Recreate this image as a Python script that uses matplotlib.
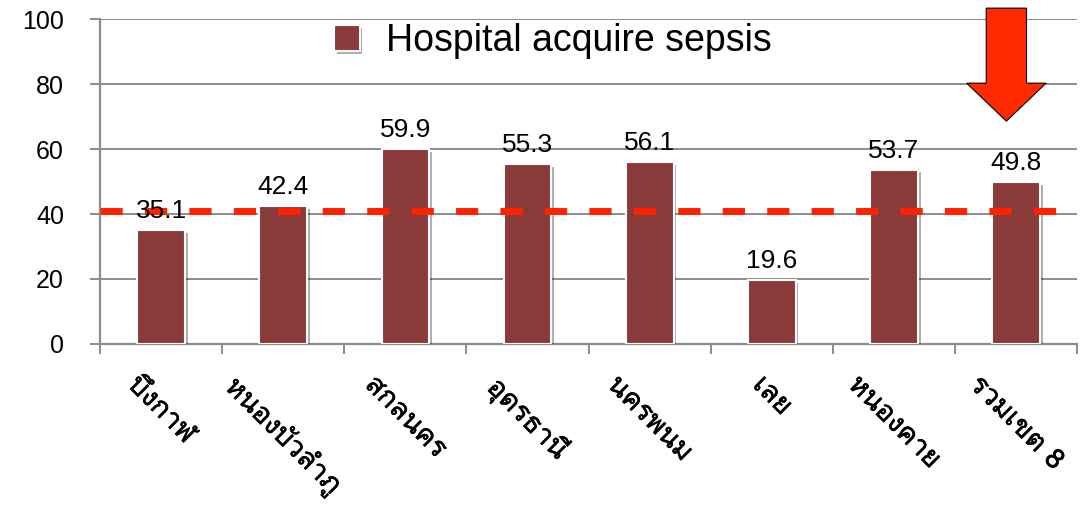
import matplotlib
matplotlib.use("Agg")
import matplotlib.pyplot as plt
from matplotlib import font_manager, patheffects
from matplotlib.ft2font import FT2Font
from matplotlib.patches import FancyArrow

categories = ["บึงกาฬ", "หนองบัวลำภู", "สกลนคร", "อุดรธานี", "นครพนม", "เลย", "หนองคาย", "รวมเขต 8"]
values = [35.1, 42.4, 59.9, 55.3, 56.1, 19.6, 53.7, 49.8]
target = 41
yticks = [0, 20, 40, 60, 80, 100]
legend_label = "Hospital acquire sepsis"

# find a font that can draw Thai
thai_font = None
for f in font_manager.fontManager.ttflist:
    try:
        if 0x0E01 in FT2Font(f.fname).get_charmap():
            thai_font = f.name
            break
    except Exception:
        pass

plt.rcParams["font.family"] = ["Liberation Sans", "DejaVu Sans"]
thai_family = [thai_font, "DejaVu Sans"] if thai_font else ["DejaVu Sans"]

bar_color = "#8b3a3a"
grid_color = "#8c8c8c"

fig = plt.figure(figsize=(10.87, 5.05), dpi=100)
ax = fig.add_axes([0.092, 0.319, 0.899, 0.643])

x = list(range(len(categories)))
bars = ax.bar(x, values, width=0.39, color=bar_color, edgecolor="white", linewidth=1.5,
              zorder=3, label=legend_label)
for b in bars:
    b.set_path_effects([patheffects.SimplePatchShadow(offset=(2, -2), alpha=0.35), patheffects.Normal()])
ax.bar_label(bars, labels=[f"{v:.1f}" for v in values], padding=5, fontsize=19, zorder=5)

ax.axhline(target, color="#ff2200", linewidth=5, dashes=(3.2, 3.2), zorder=4, clip_on=False)

ax.set_xlim(-0.5, len(categories) - 0.5)
ax.set_ylim(0, 100)
ax.set_yticks(yticks)
ax.yaxis.grid(True, color=grid_color, linewidth=1.4, zorder=0)
ax.set_axisbelow(True)
for s in ["top", "right"]:
    ax.spines[s].set_visible(False)
for s in ["left", "bottom"]:
    ax.spines[s].set_color(grid_color)
    ax.spines[s].set_linewidth(1.6)
ax.tick_params(axis="y", length=7, width=1.4, color=grid_color, labelsize=18, pad=19)

ax.set_xticks(x)
labels = ax.set_xticklabels(categories, rotation=-45, ha="center", va="top", fontsize=20,
                            family=thai_family)
for t in labels:
    t.set_path_effects([patheffects.withStroke(linewidth=0.4, foreground="black")])
ax.tick_params(axis="x", length=0, pad=20)
ax.set_xticks([i - 0.5 for i in range(len(categories) + 1)], minor=True)
ax.tick_params(axis="x", which="minor", length=7, width=1.4, color=grid_color)

leg = ax.legend(loc="upper left", bbox_to_anchor=(0.205, 1.092), frameon=False, fontsize=27,
                handlelength=0.68, handleheight=0.7, handletextpad=0.7)

arrow = FancyArrow(6.92, 103.4, 0, -34.8, width=0.33, head_width=0.65, head_length=11.7,
                   length_includes_head=True, facecolor="#ff2a00", edgecolor="black",
                   linewidth=0.8, zorder=6, clip_on=False)
ax.add_patch(arrow)

fig.savefig("out.png", dpi=100)
